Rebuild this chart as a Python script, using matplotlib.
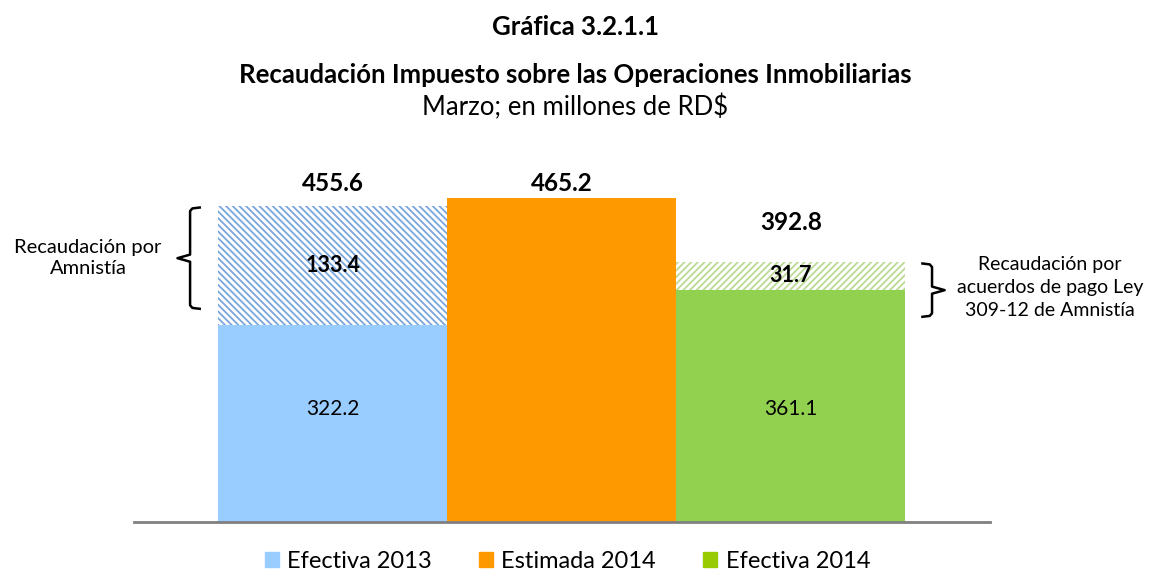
import numpy as np
import matplotlib.pyplot as plt
from matplotlib.patches import Patch

plt.rcParams['font.family'] = ['Lato', 'DejaVu Sans']
plt.rcParams['hatch.linewidth'] = 1.3

# datos (millones de RD$)
categorias = ['Efectiva 2013', 'Estimada 2014', 'Efectiva 2014']
base = [322.2, 465.2, 361.1]
extra = [133.4, 0.0, 31.7]
totales = [455.6, 465.2, 392.8]

col_barra = ['#99CCFF', '#FF9900', '#92D050']
col_leyenda = ['#99CCFF', '#FF9900', '#99CC00']
col_hatch = ['#7AA6DC', None, '#BBDA94']
hatches = ['\\\\\\\\\\', None, '/////']
pad_total = [26, 16, 44]   # separacion de la etiqueta del total

fig = plt.figure(figsize=(11.51, 5.71), dpi=100)
ax = fig.add_axes([0.1164, 0.0858, 0.7437, 0.669])

x = np.arange(len(categorias))
ax.bar(x, base, width=1.0, color=col_barra, linewidth=0)
for i in range(len(x)):
    if extra[i] > 0:
        ax.bar(x[i], extra[i], bottom=base[i], width=1.0, facecolor='white',
               edgecolor=col_hatch[i], hatch=hatches[i], linewidth=0)

ymin = 100
ax.set_xlim(-0.869, 2.869)
ax.set_ylim(ymin, 530)
for s in ['top', 'right', 'left']:
    ax.spines[s].set_visible(False)
ax.spines['bottom'].set_color('#808080')
ax.spines['bottom'].set_linewidth(2)
ax.set_xticks([])
ax.set_yticks([])

# etiquetas
for i in range(len(x)):
    ax.text(x[i], totales[i] + pad_total[i], f'{totales[i]:.1f}', ha='center',
            va='center', fontsize=17.5, fontweight='bold')
    if extra[i] > 0:
        ax.text(x[i], base[i] + extra[i] / 2, f'{extra[i]:.1f}', ha='center',
                va='center', fontsize=15.5, fontweight='bold')
        ax.text(x[i], 227.5, f'{base[i]:.1f}', ha='center', va='center',
                fontsize=15)

# llaves
def llave(xb, y0, y1, lado):
    d = 0.042 * lado
    t = 0.055 * lado
    ym = (y0 + y1) / 2
    xs = [xb + d, xb + 0.01 * lado, xb, xb, xb - t, xb, xb, xb + 0.01 * lado, xb + d]
    ys = [y1, y1 - 1, y1 - 4, ym + 4, ym, ym - 4, y0 + 4, y0 + 1, y0]
    ax.plot(xs, ys, color='black', lw=1.8, clip_on=False, solid_joinstyle='round')

llave(-0.624, 340, 454, 1)
llave(2.616, 331, 391, -1)

ax.text(-1.07, 397, 'Recaudación por\nAmnistía', ha='center', va='center',
        fontsize=14.5, linespacing=1.3)
ax.text(3.13, 364, 'Recaudación por\nacuerdos de pago Ley\n309-12 de Amnistía',
        ha='center', va='center', fontsize=14, linespacing=1.4)

fig.text(0.5, 0.953, 'Gráfica 3.2.1.1', ha='center', va='center',
         fontsize=18.5, fontweight='bold')
fig.text(0.5, 0.868, 'Recaudación Impuesto sobre las Operaciones Inmobiliarias',
         ha='center', va='center', fontsize=18.5, fontweight='bold')
fig.text(0.5, 0.813, 'Marzo; en millones de RD$', ha='center', va='center',
         fontsize=18.5)

handles = [Patch(color=c) for c in col_leyenda]
fig.legend(handles, categorias, loc='center', bbox_to_anchor=(0.493, 0.017),
           ncol=3, frameon=False, fontsize=17, handlelength=0.6,
           handleheight=0.6, handletextpad=0.35, columnspacing=2.0)

fig.savefig('out.png', dpi=100)
